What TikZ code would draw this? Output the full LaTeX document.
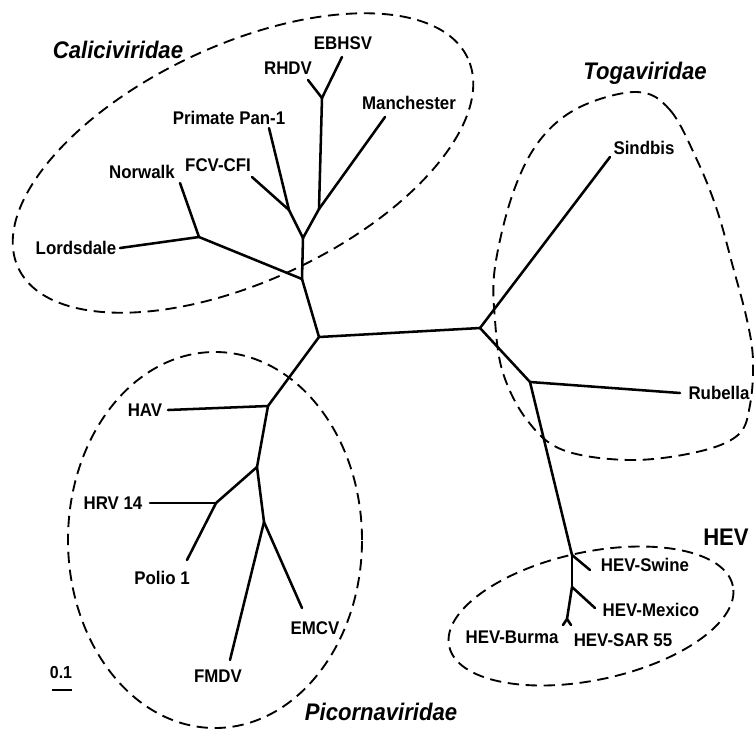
\documentclass[tikz,border=0pt]{standalone}
\usepackage{fontspec}
\setmainfont[FakeStretch=0.92]{Liberation Sans}
\usetikzlibrary{positioning,calc}
\tikzset{
branch/.style={
line width=1.9pt,
line cap=round,
line join=round
},
clade/.style={
line width=1.4pt,
dash pattern=on 8.5pt off 5pt
},
leaf/.style={
inner sep=0pt,
font=\fontsize{13.75}{16}\selectfont\bfseries
},
family/.style={
inner sep=0pt,
font=\fontsize{18}{21}\selectfont\bfseries\itshape
}
}

\begin{document}
\begin{tikzpicture}[x=0.75pt,y=-0.75pt]
\useasboundingbox (0,0) rectangle (754,733);

% inner nodes of the tree
\coordinate (r) at (319,337);
\coordinate (cal0) at (302,279);
\coordinate (lord0) at (199,237);
\coordinate (cal1) at (303,238);
\coordinate (fcv0) at (289,210);
\coordinate (cal2) at (319,209);
\coordinate (rh0) at (322,98);
\coordinate (tog0) at (480,328);
\coordinate (rub0) at (530,382);
\coordinate (hev1) at (572,555);
\coordinate (hev2) at (572,587);
\coordinate (hev3) at (567,619);
\coordinate (pic0) at (268,406);
\coordinate (pic1) at (257,467);
\coordinate (hrv0) at (216,503);
\coordinate (pic2) at (264,522);

% tips
\coordinate (tlord) at (120,248);
\coordinate (tnor) at (180,183);
\coordinate (tfcv) at (252,177);
\coordinate (tpan) at (269,128);
\coordinate (trhd) at (308,80);
\coordinate (tebh) at (342,57);
\coordinate (tman) at (385,117);
\coordinate (tsin) at (610,157);
\coordinate (trub) at (680,393);
\coordinate (tswi) at (590,570);
\coordinate (tmex) at (595,608);
\coordinate (tbur) at (563,625);
\coordinate (tsar) at (571,625);
\coordinate (thav) at (168,410);
\coordinate (thrv) at (150,503);
\coordinate (tpol) at (187,560);
\coordinate (tfmd) at (230,660);
\coordinate (temc) at (302,608);

\foreach \x/\y in {r/cal0,cal0/lord0,lord0/tlord,lord0/tnor,cal0/cal1,cal1/fcv0,fcv0/tfcv,fcv0/tpan,
cal1/cal2,cal2/rh0,rh0/trhd,rh0/tebh,cal2/tman,
r/tog0,tog0/tsin,tog0/rub0,rub0/trub,rub0/hev1,hev1/tswi,hev1/hev2,hev2/tmex,hev2/hev3,hev3/tbur,hev3/tsar,
r/pic0,pic0/thav,pic0/pic1,pic1/hrv0,hrv0/thrv,hrv0/tpol,pic1/pic2,pic2/tfmd,pic2/temc}
\draw[branch](\x)--(\y);

% leaf labels
\node[leaf](lordsdale) at (76,248){Lordsdale};
\node[leaf](norwalk) at (142,172){Norwalk};
\node[leaf](fcv) at (218,165){FCV-CFI};
\node[leaf](pan) at (229,118){Primate Pan-1};
\node[leaf](rhdv) at (288,68){RHDV};
\node[leaf](ebhsv) at (343,43){EBHSV};
\node[leaf](manchester) at (409,103){Manchester};
\node[leaf](sindbis) at (644,148){Sindbis};
\node[leaf](rubella) at (719,393){Rubella};
\node[leaf](swine) at (645,565){HEV-Swine};
\node[leaf](mexico) at (651,610){HEV-Mexico};
\node[leaf](burma) at (512,637){HEV-Burma};
\node[leaf](sar) at (623,640){HEV-SAR 55};
\node[leaf](hav) at (145,410){HAV};
\node[leaf](hrv) at (113,503){HRV 14};
\node[leaf](polio) at (162,578){Polio 1};
\node[leaf](fmdv) at (218,676){FMDV};
\node[leaf](emcv) at (315,628){EMCV};

% families
\node[family](calici) at (118,50){Caliciviridae};
\node[family](toga) at (645,73){Togaviridae};
\node[family](picorna) at (381,712){Picornaviridae};
\node[family,font=\fontsize{18}{21}\selectfont\bfseries](hev) at (726,537){HEV};

% dashed outlines
\draw[clade,rotate around={25:(243,163)}] (243,163) ellipse [x radius=186pt,y radius=88.5pt];
\draw[clade] (215,540) ellipse [x radius=110.25pt,y radius=141pt];
\draw[clade,rotate around={12:(591,616)}] (591,616) ellipse [x radius=108.75pt,y radius=48pt];
\draw[clade] plot[smooth cycle,tension=0.6] coordinates {(637,92) (670,110) (697,160) (717,210) (733,267)
(747,320) (753,360) (750,405) (738,435) (697,452) (630,460) (563,450) (527,420) (503,373) (495,320)
(495,267) (513,193) (540,140) (580,107)};

% scale
\node[leaf,font=\fontsize{13}{15}\selectfont\bfseries](scale) at (61,673){0.1};
\coordinate (s1) at (52,690);
\coordinate (s2) at (72,690);
\draw[branch,line cap=butt](s1)--(s2);
\end{tikzpicture}
\end{document}
